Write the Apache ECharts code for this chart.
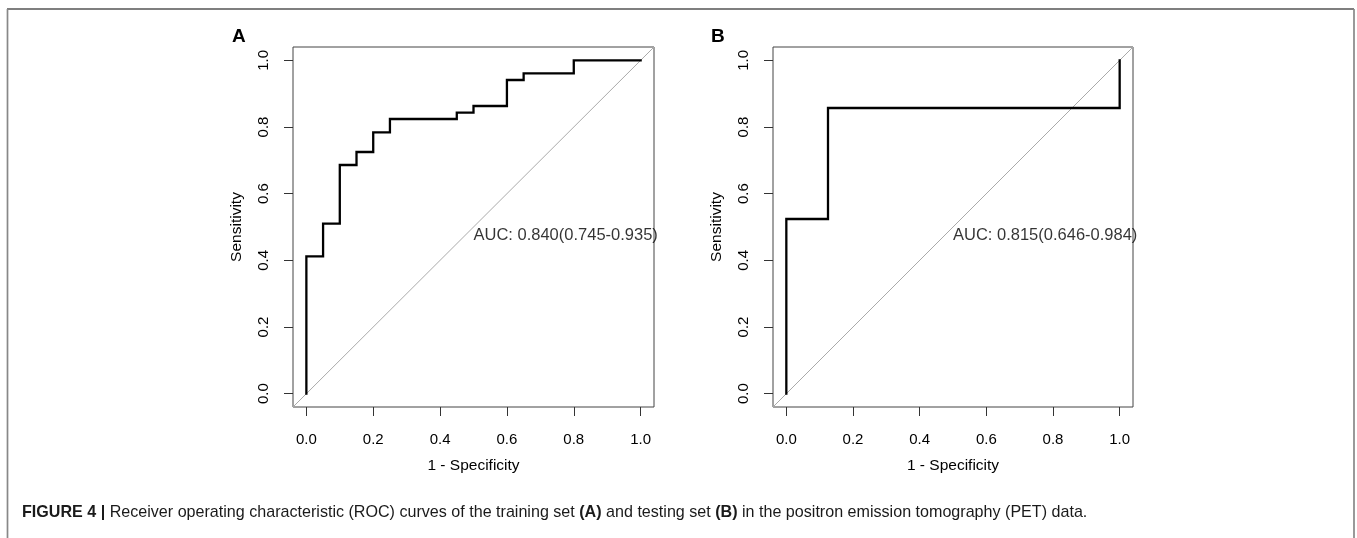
<!DOCTYPE html>
<html><head><meta charset="utf-8">
<script src="https://cdn.jsdelivr.net/npm/echarts@6/dist/echarts.min.js"></script>
<style>html,body{margin:0;padding:0;background:#fff}#c{width:1357px;height:538px}</style>
</head><body><div id="c"></div>
<script>
// ---- data ----
const tickValues = [0, 0.2, 0.4, 0.6, 0.8, 1.0];
const tickLabels = ['0.0', '0.2', '0.4', '0.6', '0.8', '1.0'];
// Panel A (training set): 1 - specificity / sensitivity corner points
const fprA = [0, 0, 0.05, 0.05, 0.10, 0.10, 0.15, 0.15, 0.20, 0.20, 0.25, 0.25, 0.45, 0.45, 0.50, 0.50, 0.60, 0.60, 0.65, 0.65, 0.80, 0.80, 1.00];
const tprA = [0, 0.412, 0.412, 0.510, 0.510, 0.686, 0.686, 0.725, 0.725, 0.784, 0.784, 0.824, 0.824, 0.843, 0.843, 0.863, 0.863, 0.941, 0.941, 0.961, 0.961, 1.000, 1.000];
// Panel B (testing set)
const fprB = [0, 0, 0.125, 0.125, 1.0, 1.0];
const tprB = [0, 0.524, 0.524, 0.857, 0.857, 1.0];
const diagX = [-0.04, 1.04];
const diagY = [-0.04, 1.04];
const aucTexts = ['AUC: 0.840(0.745-0.935)', 'AUC: 0.815(0.646-0.984)'];
const aucPos = [0.5, 0.5];
const panelLabels = ['A', 'B'];
const xName = '1 - Specificity';
const yName = 'Sensitivity';
const captionBold = 'FIGURE 4 |';
const captionText = ' Receiver operating characteristic (ROC) curves of the training set {b|(A)} and testing set {b|(B)} in the positron emission tomography (PET) data.';

// ---- chart ----
const FONT = '"Liberation Sans", Arial, Helvetica, sans-serif';
const zip = (a, b) => a.map((v, i) => [v, b[i]]);
const fmt = v => tickLabels[tickValues.indexOf(Math.round(v * 10) / 10)] || v.toFixed(1);
const grids = [
  { left: 293, top: 47, width: 361, height: 360 },
  { left: 773, top: 47, width: 360, height: 360 }
];
const axisCommon = {
  type: 'value', min: -0.04, max: 1.04,
  axisLine: { show: false, onZero: false },
  splitLine: { show: false },
  axisTick: { show: true, inside: false, customValues: tickValues, length: 9, lineStyle: { color: '#333', width: 1 } },
  nameTextStyle: { fontFamily: FONT, fontSize: 15.5, color: '#000' },
  nameLocation: 'middle'
};
const xAxes = [], yAxes = [], series = [], titles = [];
grids.forEach((g, i) => {
  g.show = true; g.borderColor = '#444'; g.borderWidth = 1; g.backgroundColor = 'transparent';
  xAxes.push(Object.assign({}, axisCommon, {
    gridIndex: i, name: xName, nameGap: 51,
    axisLabel: { customValues: tickValues, formatter: fmt, fontFamily: FONT, fontSize: 15, color: '#000', margin: 25 }
  }));
  yAxes.push(Object.assign({}, axisCommon, {
    gridIndex: i, name: yName, nameGap: 48,
    axisLabel: { customValues: tickValues, rotate: 90, formatter: fmt, fontFamily: FONT, fontSize: 15, color: '#000', margin: 22 }
  }));
  series.push({
    type: 'line', xAxisIndex: i, yAxisIndex: i, data: zip(diagX, diagY),
    symbol: 'none', silent: true, z: 1,
    lineStyle: { color: '#aaaaaa', width: 1 }
  });
  series.push({
    type: 'line', xAxisIndex: i, yAxisIndex: i,
    data: i === 0 ? zip(fprA, tprA) : zip(fprB, tprB),
    symbol: 'none', silent: true, z: 3,
    lineStyle: { color: '#000', width: 2.3, join: 'miter', cap: 'square' }
  });
  series.push({
    type: 'scatter', xAxisIndex: i, yAxisIndex: i, data: [aucPos],
    symbolSize: 0, silent: true, z: 4, itemStyle: { color: 'transparent' },
    label: { show: true, position: [0, 0], align: 'left', verticalAlign: 'top', formatter: aucTexts[i], fontFamily: FONT, fontSize: 16.5, color: '#000' }
  });
  titles.push({
    text: panelLabels[i], left: i === 0 ? 232 : 711, top: 27, padding: 0,
    textStyle: { fontFamily: FONT, fontSize: 19, fontWeight: 'bold', color: '#000' }
  });
});
titles.push({
  text: '{b|' + captionBold + '}' + captionText,
  left: 22, top: 505, padding: 0,
  textStyle: { fontFamily: FONT, fontSize: 16.1, fontWeight: 'normal', color: '#1a1a1a',
    rich: { b: { fontFamily: FONT, fontSize: 16.1, fontWeight: 'bold', color: '#1a1a1a' } } }
});

const chart = echarts.init(document.getElementById('c'), null, { renderer: 'canvas' });
chart.setOption({
  animation: false,
  backgroundColor: '#fff',
  title: titles,
  grid: grids,
  xAxis: xAxes,
  yAxis: yAxes,
  series: series,
  graphic: [
    { type: 'line', shape: { x1: 7, y1: 9, x2: 1354, y2: 9 }, style: { stroke: '#555', lineWidth: 1.6 }, silent: true },
    { type: 'line', shape: { x1: 7.5, y1: 9, x2: 7.5, y2: 538 }, style: { stroke: '#888', lineWidth: 1.7 }, silent: true },
    { type: 'line', shape: { x1: 1354, y1: 9, x2: 1354, y2: 538 }, style: { stroke: '#888', lineWidth: 1.7 }, silent: true }
  ]
});
</script>
</body></html>
